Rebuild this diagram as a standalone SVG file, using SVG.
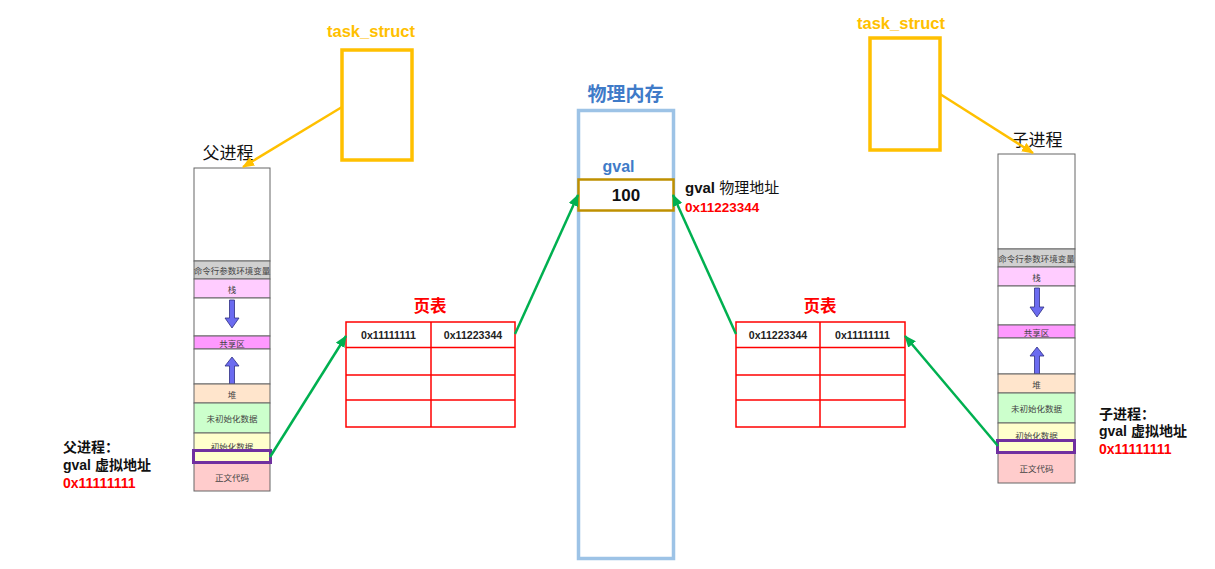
<svg xmlns="http://www.w3.org/2000/svg" width="1215" height="569" viewBox="0 0 1215 569">
<style>
text{font-family:"Liberation Sans","Noto Sans CJK SC",sans-serif}
.cjk{font-family:"Noto Sans CJK SC","Liberation Sans",sans-serif}
.seg{stroke:#666;stroke-width:1}
.st{font-size:8.5px;fill:#444;text-anchor:middle;dominant-baseline:central}
.arr{fill:#6B6BF0;stroke:#2E2E80;stroke-width:0.8}
.purple{fill:none;stroke:#7030A0;stroke-width:3}
.ts{fill:none;stroke:#FFC000;stroke-width:3.5}
.tstext{font-size:16.5px;font-weight:bold;fill:#FFC000}
.pt{fill:none;stroke:#FF0000;stroke-width:1.5}
.ptt{font-size:10.6px;font-weight:bold;fill:#222;text-anchor:middle;dominant-baseline:central}
.ttl{font-size:16.5px;font-weight:bold;fill:#FF0000;text-anchor:middle;dominant-baseline:central}
.lbl{font-size:14px;font-weight:bold;fill:#111}
.red{fill:#FF0000}
.g{stroke:#00B050;stroke-width:2.5;fill:none;marker-end:url(#ga)}
.y{stroke:#FFC000;stroke-width:2.5;fill:none;marker-end:url(#ya)}
</style>
<defs>
<marker id="ga" markerUnits="userSpaceOnUse" markerWidth="12" markerHeight="10" refX="11" refY="5" orient="auto"><path d="M0,0 L12,5 L0,10 Z" fill="#00B050"/></marker>
<marker id="ya" markerUnits="userSpaceOnUse" markerWidth="12" markerHeight="10" refX="11" refY="5" orient="auto"><path d="M0,0 L12,5 L0,10 Z" fill="#FFC000"/></marker>
</defs>
<rect width="1215" height="569" fill="#fff"/>

<g id="task_struct_parent">
<text class="tstext" x="327" y="37">task_struct</text>
<rect class="ts" x="342" y="50" width="70" height="110"/>
</g>
<g id="task_struct_child">
<text class="tstext" x="857" y="29">task_struct</text>
<rect class="ts" x="870" y="38" width="70" height="112"/>
</g>

<g id="parent_process">
<text class="cjk" x="228" y="159" font-size="17" text-anchor="middle" fill="#111">父进程</text>
<rect class="seg" x="194" y="168" width="76" height="93" fill="#fff"/>
<rect class="seg" x="194" y="261" width="76" height="18" fill="#D0D0D0"/>
<text class="st cjk" x="232" y="270">命令行参数环境变量</text>
<rect class="seg" x="194" y="279" width="76" height="19" fill="#FFCCFF"/>
<text class="st cjk" x="232" y="288.5">栈</text>
<rect class="seg" x="194" y="298" width="76" height="38" fill="#fff"/>
<polygon class="arr" points="229.5,300 234.5,300 234.5,318 239,318 232,328 225,318 229.5,318"/>
<rect class="seg" x="194" y="336" width="76" height="13" fill="#FF99FF"/>
<text class="st cjk" x="232" y="342.5">共享区</text>
<rect class="seg" x="194" y="349" width="76" height="35" fill="#fff"/>
<polygon class="arr" points="229.5,384 234.5,384 234.5,366 239,366 232,357 225,366 229.5,366"/>
<rect class="seg" x="194" y="384" width="76" height="19" fill="#FFE5CC"/>
<text class="st cjk" x="232" y="393.5">堆</text>
<rect class="seg" x="194" y="403" width="76" height="30" fill="#CCFFCC"/>
<text class="st cjk" x="232" y="418">未初始化数据</text>
<rect class="seg" x="194" y="433" width="76" height="30" fill="#FFFFCC"/>
<text class="st cjk" x="232" y="446">初始化数据</text>
<rect class="seg" x="194" y="463" width="76" height="28" fill="#FFCCCC"/>
<text class="st cjk" x="232" y="477">正文代码</text>
<rect x="194" y="451" width="76" height="11.5" fill="#FFFFCC"/>
<rect class="purple" x="193.5" y="450.5" width="77" height="12"/>
</g>

<g id="child_process">
<text class="cjk" x="1037" y="146" font-size="17" text-anchor="middle" fill="#111">子进程</text>
<rect class="seg" x="998" y="154" width="77" height="95" fill="#fff"/>
<rect class="seg" x="998" y="249" width="77" height="18" fill="#D0D0D0"/>
<text class="st cjk" x="1036.5" y="258">命令行参数环境变量</text>
<rect class="seg" x="998" y="267" width="77" height="19" fill="#FFCCFF"/>
<text class="st cjk" x="1036.5" y="276.5">栈</text>
<rect class="seg" x="998" y="286" width="77" height="39" fill="#fff"/>
<polygon class="arr" points="1034.5,288 1039.5,288 1039.5,307 1044,307 1037,317 1030,307 1034.5,307"/>
<rect class="seg" x="998" y="325" width="77" height="13" fill="#FF99FF"/>
<text class="st cjk" x="1036.5" y="331.5">共享区</text>
<rect class="seg" x="998" y="338" width="77" height="36" fill="#fff"/>
<polygon class="arr" points="1034.5,374 1039.5,374 1039.5,356 1044,356 1037,347 1030,356 1034.5,356"/>
<rect class="seg" x="998" y="374" width="77" height="19" fill="#FFE5CC"/>
<text class="st cjk" x="1036.5" y="383.5">堆</text>
<rect class="seg" x="998" y="393" width="77" height="30" fill="#CCFFCC"/>
<text class="st cjk" x="1036.5" y="408">未初始化数据</text>
<rect class="seg" x="998" y="423" width="77" height="30" fill="#FFFFCC"/>
<text class="st cjk" x="1036.5" y="435">初始化数据</text>
<rect class="seg" x="998" y="453" width="77" height="30" fill="#FFCCCC"/>
<text class="st cjk" x="1036.5" y="468">正文代码</text>
<rect x="998" y="441" width="77" height="11" fill="#FFFFCC"/>
<rect class="purple" x="997.5" y="440.5" width="77" height="12"/>
</g>

<g id="parent_label">
<text class="lbl cjk" x="63" y="452">父进程：</text>
<text class="lbl" x="63" y="470">gval <tspan class="cjk">虚拟地址</tspan></text>
<text class="lbl red" x="63" y="488" font-size="13.7">0x11111111</text>
</g>
<g id="child_label">
<text class="lbl cjk" x="1099" y="419">子进程：</text>
<text class="lbl" x="1099" y="436">gval <tspan class="cjk">虚拟地址</tspan></text>
<text class="lbl red" x="1099" y="454" font-size="13.7">0x11111111</text>
</g>

<g id="page_table_parent">
<text class="ttl cjk" x="430" y="305">页表</text>
<rect class="pt" x="346" y="322" width="169" height="105"/>
<line class="pt" x1="431" y1="322" x2="431" y2="427"/>
<line class="pt" x1="346" y1="347.5" x2="515" y2="347.5"/>
<line class="pt" x1="346" y1="375" x2="515" y2="375"/>
<line class="pt" x1="346" y1="400" x2="515" y2="400"/>
<text class="ptt" x="388.5" y="335">0x11111111</text>
<text class="ptt" x="473" y="335">0x11223344</text>
</g>

<g id="page_table_child">
<text class="ttl cjk" x="820" y="305">页表</text>
<rect class="pt" x="736" y="322" width="169" height="105"/>
<line class="pt" x1="820" y1="322" x2="820" y2="427"/>
<line class="pt" x1="736" y1="347.5" x2="905" y2="347.5"/>
<line class="pt" x1="736" y1="375" x2="905" y2="375"/>
<line class="pt" x1="736" y1="400" x2="905" y2="400"/>
<text class="ptt" x="778" y="335">0x11223344</text>
<text class="ptt" x="862.5" y="335">0x11111111</text>
</g>

<g id="physical_memory">
<text class="cjk" x="625.5" y="101" font-size="19" font-weight="bold" text-anchor="middle" fill="#3F7BC8">物理内存</text>
<rect x="578.5" y="110.5" width="95" height="448" fill="none" stroke="#9DC3E6" stroke-width="3.5"/>
<text x="618.5" y="172" font-size="16" font-weight="bold" text-anchor="middle" fill="#3F7BC8">gval</text>
<rect x="578.5" y="179.5" width="95" height="31" fill="#fff" stroke="#BF9000" stroke-width="2.5"/>
<text x="626" y="201" font-size="17" font-weight="bold" text-anchor="middle" fill="#111">100</text>
</g>

<g id="physical_label">
<text x="685" y="193" font-size="15" font-weight="bold" fill="#111">gval <tspan class="cjk" font-weight="normal">物理地址</tspan></text>
<text x="685" y="211.5" font-size="13.5" font-weight="bold" fill="#FF0000">0x11223344</text>
</g>

<g id="connectors">
<line class="y" x1="342" y1="107" x2="243" y2="167"/>
<line class="y" x1="940" y1="94" x2="1033" y2="153"/>
<line class="g" x1="270" y1="457" x2="346" y2="336"/>
<line class="g" x1="515" y1="334" x2="578" y2="195"/>
<line class="g" x1="736" y1="334" x2="673" y2="195"/>
<line class="g" x1="998" y1="446" x2="905" y2="336"/>
</g>
</svg>
